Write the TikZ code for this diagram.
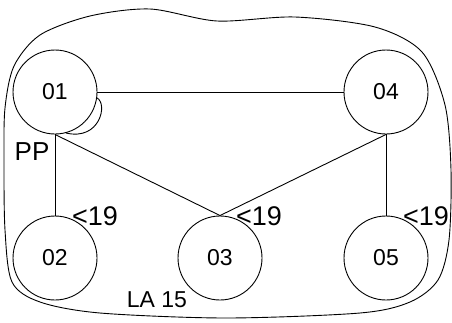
\documentclass[tikz,border=0pt]{standalone}
\usepackage{fontspec}
\setmainfont{Liberation Sans}
\usepackage{tikz}
\usetikzlibrary{calc}
\tikzstyle{station} = [circle, draw, text centered, minimum size=84pt, inner sep=0pt, line width=0.9pt, font=\fontsize{23}{26}\selectfont]
\tikzstyle{tag} = [inner sep=0pt, font=\fontsize{27}{30}\selectfont]
\tikzstyle{link} = [line width=0.9pt]

\begin{document}
\begin{tikzpicture}[x=1pt, y=-1pt, node distance = 166pt]
            \useasboundingbox (0,0) rectangle (452,322);
            \node (n01) [station] at (55,92) {01};
            \node (n02) [station,below of = n01] {02};
            \node (n03) [station,right of = n02,xshift=-1pt] {03};
            \node (n04) [station,right of = n01,xshift=165pt] {04};
            \node (n05) [station,below of = n04] {05};
            \draw [link] (n01) -- (n04);
            \draw [link] (n01.south) -- (n02.north);
            \draw [link] (n01.south) -- (n03.north);
            \draw [link] (n04.south) -- (n03.north);
            \draw [link] (n04.south) -- (n05.north);
            \draw [link] (n01.-8) .. controls +(11,6) and +(34,8) .. (n01.-75);
            \node (pp) [tag,font=\fontsize{26}{30}\selectfont] at (32,152) {PP};
            \node (lim02) [tag] at (95,216) {<19};
            \node (lim03) [tag] at (259,216) {<19};
            \node (lim05) [tag] at (426,216) {<19};
            \node (area) [tag,font=\fontsize{23}{26}\selectfont] at (157,300) {LA 15};
            \draw [link] plot [smooth cycle] coordinates {(4,160) (5,108) (14,66) (40,35) (90,16) (150,9) (217,21) (295,17) (375,27) (422,52) (445,105) (451,170) (449,240) (438,280) (410,302) (360,313) (226,318) (100,313) (40,302) (12,282) (5,230)};
        \end{tikzpicture}
\end{document}
